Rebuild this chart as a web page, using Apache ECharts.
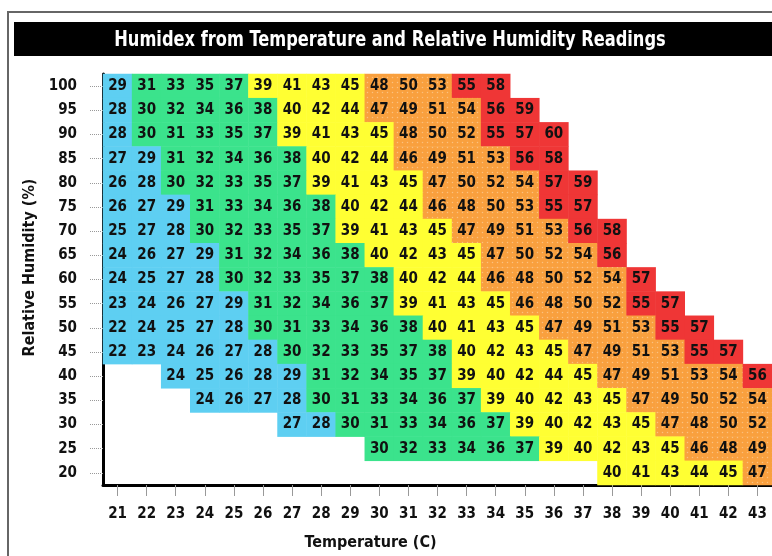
<!DOCTYPE html>
<html>
<head>
<meta charset="utf-8">
<script src="https://cdn.jsdelivr.net/npm/echarts@6/dist/echarts.min.js"></script>
<style>
html,body{margin:0;padding:0;background:#fff;}
#chart{width:772px;height:556px;}
</style>
</head>
<body>
<div id="chart"></div>
<script>
// Temperatures (C) along the x axis
const temperatures = ['21','22','23','24','25','26','27','28','29','30','31','32','33','34','35','36','37','38','39','40','41','42','43'];
// Relative humidity (%) levels, top to bottom
const humidityLevels = ['100','95','90','85','80','75','70','65','60','55','50','45','40','35','30','25','20'];
// First temperature that has a reading in each humidity row
const firstTemp = [21,21,21,21,21,21,21,21,21,21,21,21,23,24,27,30,38];

// Humidex readings per humidity row (starting at firstTemp)
const humidex100 = [29,31,33,35,37,39,41,43,45,48,50,53,55,58];
const humidex95  = [28,30,32,34,36,38,40,42,44,47,49,51,54,56,59];
const humidex90  = [28,30,31,33,35,37,39,41,43,45,48,50,52,55,57,60];
const humidex85  = [27,29,31,32,34,36,38,40,42,44,46,49,51,53,56,58];
const humidex80  = [26,28,30,32,33,35,37,39,41,43,45,47,50,52,54,57,59];
const humidex75  = [26,27,29,31,33,34,36,38,40,42,44,46,48,50,53,55,57];
const humidex70  = [25,27,28,30,32,33,35,37,39,41,43,45,47,49,51,53,56,58];
const humidex65  = [24,26,27,29,31,32,34,36,38,40,42,43,45,47,50,52,54,56];
const humidex60  = [24,25,27,28,30,32,33,35,37,38,40,42,44,46,48,50,52,54,57];
const humidex55  = [23,24,26,27,29,31,32,34,36,37,39,41,43,45,46,48,50,52,55,57];
const humidex50  = [22,24,25,27,28,30,31,33,34,36,38,40,41,43,45,47,49,51,53,55,57];
const humidex45  = [22,23,24,26,27,28,30,32,33,35,37,38,40,42,43,45,47,49,51,53,55,57];
const humidex40  = [24,25,26,28,29,31,32,34,35,37,39,40,42,44,45,47,49,51,53,54,56];
const humidex35  = [24,26,27,28,30,31,33,34,36,37,39,40,42,43,45,47,49,50,52,54];
const humidex30  = [27,28,30,31,33,34,36,37,39,40,42,43,45,47,48,50,52];
const humidex25  = [30,32,33,34,36,37,39,40,42,43,45,46,48,49];
const humidex20  = [40,41,43,44,45,47];

const rows = [humidex100,humidex95,humidex90,humidex85,humidex80,humidex75,humidex70,humidex65,humidex60,humidex55,humidex50,humidex45,humidex40,humidex35,humidex30,humidex25,humidex20];

const orangeDecal = { symbol: 'circle', symbolSize: 0.3, color: 'rgba(255,255,255,0.35)', dashArrayX: [5, 0], dashArrayY: [5, 0], rotation: 0 };

const data = [];
rows.forEach((vals, r) => {
  const startIdx = temperatures.indexOf(String(firstTemp[r]));
  vals.forEach((v, i) => {
    const item = { value: [startIdx + i, r, v] };
    if (v >= 46 && v <= 54) item.itemStyle = { decal: orangeDecal };
    data.push(item);
  });
});

const FONT = "'Liberation Sans Narrow','DejaVu Sans Condensed','Arial Narrow',sans-serif";

const chart = echarts.init(document.getElementById('chart'));
chart.setOption({
  animation: false,
  backgroundColor: '#fff',
  graphic: [
    { type: 'rect', shape: { x: 8, y: 12, width: 800, height: 600 }, style: { fill: 'none', stroke: '#666', lineWidth: 2 }, z: 0 },
    { type: 'rect', shape: { x: 14, y: 22, width: 800, height: 34 }, style: { fill: '#000' }, z: 1 },
    { type: 'text', x: 390, y: 41, scaleX: 0.86, style: { text: 'Humidex from Temperature and Relative Humidity Readings', fill: '#fff', font: "bold 21px " + FONT, x: 0, y: 0, align: 'center', verticalAlign: 'middle' }, z: 2 }
  ],
  grid: { left: 103, right: -3, top: 74, bottom: 70 },
  xAxis: {
    type: 'category',
    data: temperatures,
    name: 'Temperature (C)',
    nameLocation: 'middle',
    nameGap: 50,
    nameTextStyle: { fontFamily: FONT, fontWeight: 'bold', fontSize: 16, color: '#111', padding: [0, 134, 0, 0] },
    axisLine: { lineStyle: { color: '#000', width: 3 } },
    axisTick: { show: true, alignWithLabel: true, length: 11, lineStyle: { color: '#999' } },
    axisLabel: { margin: 22, fontFamily: FONT, fontWeight: 'bold', fontSize: 15, color: '#111' },
    splitLine: { show: false }
  },
  yAxis: {
    type: 'category',
    data: humidityLevels,
    inverse: true,
    name: 'Relative Humidity (%)',
    nameLocation: 'middle',
    nameGap: 62,
    nameTextStyle: { fontFamily: FONT, fontWeight: 'bold', fontSize: 16, color: '#111', padding: [0, 0, 0, 24] },
    axisLine: { lineStyle: { color: '#000', width: 3 } },
    axisTick: { show: true, alignWithLabel: true, length: 14, lineStyle: { color: '#999', type: 'dotted' } },
    axisLabel: { margin: 26, fontFamily: FONT, fontWeight: 'bold', fontSize: 15, color: '#111' },
    splitLine: { show: false }
  },
  visualMap: {
    type: 'piecewise',
    show: false,
    dimension: 2,
    pieces: [
      { lte: 29, color: '#5ECFF2' },
      { gte: 30, lte: 38, color: '#3BE38C' },
      { gte: 39, lte: 45, color: '#FFFF33' },
      { gte: 46, lte: 54, color: '#F9A03E' },
      { gte: 55, color: '#EF3636' }
    ]
  },
  series: [{
    type: 'heatmap',
    data: data,
    label: { show: true, fontFamily: FONT, fontWeight: 'bold', fontSize: 15, color: '#111' },
    itemStyle: { borderWidth: 0 },
    emphasis: { disabled: true }
  }]
});
</script>
</body>
</html>
